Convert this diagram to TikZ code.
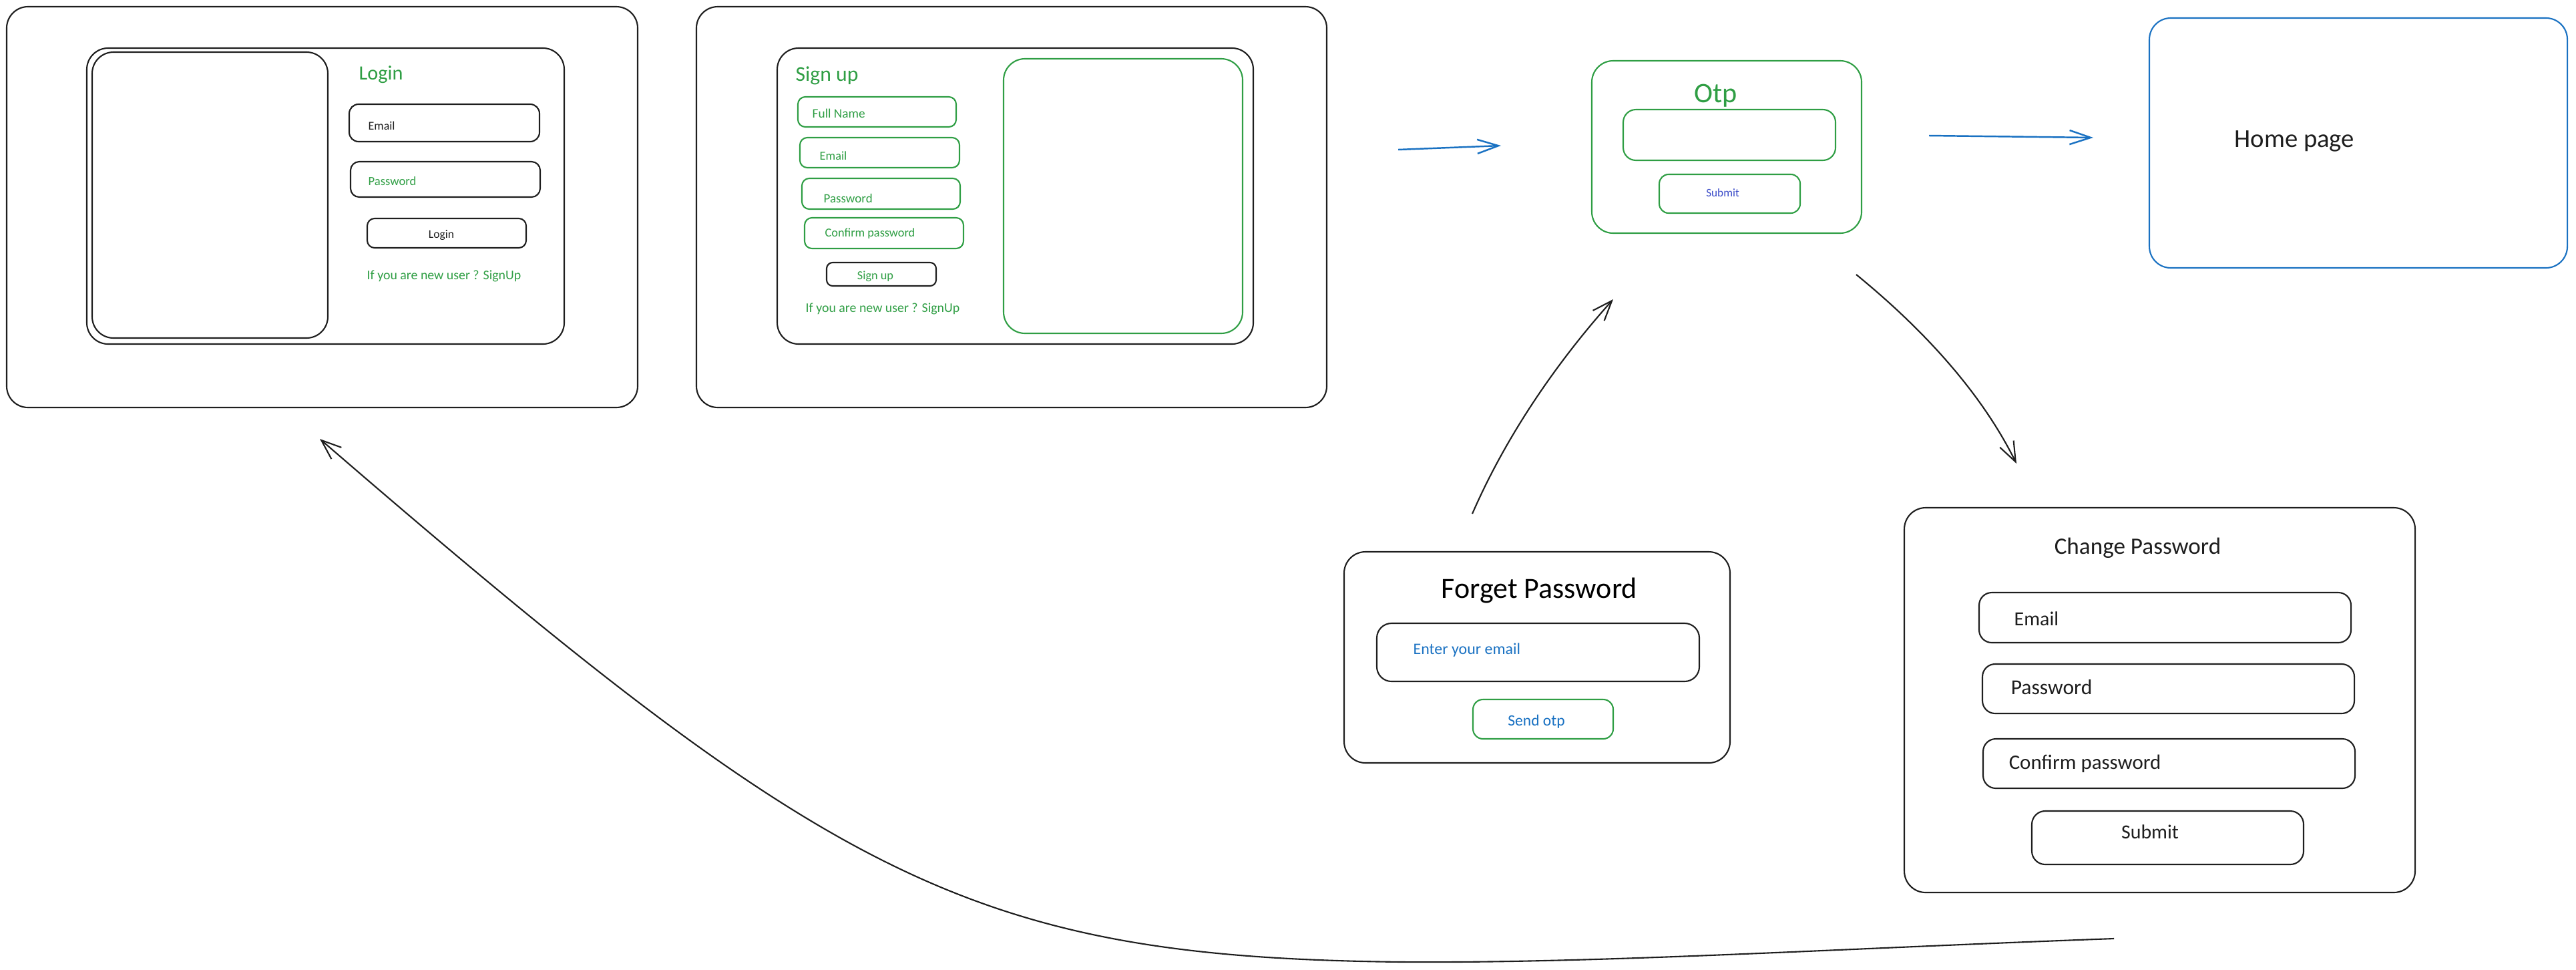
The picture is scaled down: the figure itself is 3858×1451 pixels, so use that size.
\documentclass[tikz,border=0pt]{standalone}
\usepackage{fontspec}
\setmainfont{Carlito}
\usetikzlibrary{fit,arrows.meta}
\definecolor{ink}{HTML}{1E1E1E}
\definecolor{exgreen}{HTML}{2F9E44}
\definecolor{exblue}{HTML}{1971C2}
\definecolor{exindigo}{HTML}{3B4CC8}
\tikzset{
  sk/.style={draw=#1, line width=0.6pt, inner sep=0pt},
  txt/.style={inner sep=0pt, font=\fontsize{#1}{#1}\selectfont},
  barrow/.style={draw=exblue, line width=0.7pt, -{Straight Barb[length=9pt,width=6pt]}},
  karrow/.style={draw=ink, line width=0.6pt, -{Straight Barb[length=8.5pt,width=6.5pt]}}
}
\begin{document}
\begin{tikzpicture}[x=0.01cm, y=-0.01cm]
\useasboundingbox (0,0) rectangle (3858,1451);
% ---------- Login screen ----------
\node[sk=ink, rounded corners=0.32cm, fit={(10,10)(955,610)}] (loginframe) {};
\node[sk=ink, rounded corners=0.32cm, fit={(130,72)(845,515)}] (logincard) {};
\node[sk=ink, rounded corners=0.32cm, fit={(138,78)(491,506)}] (loginimg) {};
\node[txt=8.6, text=exgreen, anchor=base west] (logintitle) at (537,119) {Login};
\node[sk=ink, rounded corners=0.14cm, fit={(523,156)(808,212)}] (loginemail) {};
\node[txt=5.1, text=ink, anchor=base west] (loginemailt) at (551,194) {Email};
\node[sk=ink, rounded corners=0.13cm, fit={(525,242)(809,295)}] (loginpw) {};
\node[txt=5.3, text=exgreen, anchor=base west] (loginpwt) at (551,277) {Password};
\node[sk=ink, rounded corners=0.11cm, fit={(550,327)(788,371)}] (loginbtn) {};
\node[txt=5, text=ink, anchor=base] (loginbtnt) at (661,356) {Login};
\node[txt=5.65, text=exgreen, anchor=base west] (loginnew) at (549,418) {If you are new user ? SignUp};
% ---------- Sign up screen ----------
\node[sk=ink, rounded corners=0.32cm, fit={(1043,10)(1987,610)}] (signframe) {};
\node[sk=ink, rounded corners=0.32cm, fit={(1164,72)(1877,515)}] (signcard) {};
\node[sk=exgreen, rounded corners=0.32cm, fit={(1503,88)(1861,499)}] (signimg) {};
\node[txt=9, text=exgreen, anchor=base west] (signtitle) at (1191,121) {Sign up};
\node[sk=exgreen, rounded corners=0.11cm, fit={(1195,145)(1432,190)}] (signname) {};
\node[txt=5.5, text=exgreen, anchor=base west] (signnamet) at (1216,176) {Full Name};
\node[sk=exgreen, rounded corners=0.11cm, fit={(1198,206)(1437,251)}] (signemail) {};
\node[txt=5.2, text=exgreen, anchor=base west] (signemailt) at (1227,239) {Email};
\node[sk=exgreen, rounded corners=0.11cm, fit={(1201,267)(1438,313)}] (signpw) {};
\node[txt=5.4, text=exgreen, anchor=base west] (signpwt) at (1233,303) {Password};
\node[sk=exgreen, rounded corners=0.11cm, fit={(1205,326)(1443,372)}] (signcpw) {};
\node[txt=5.2, text=exgreen, anchor=base west] (signcpwt) at (1235,354) {Confirm password};
\node[sk=ink, rounded corners=0.09cm, fit={(1238,393)(1402,428)}] (signbtn) {};
\node[txt=5.2, text=exgreen, anchor=base] (signbtnt) at (1311,418) {Sign up};
\node[txt=5.65, text=exgreen, anchor=base west] (signnew) at (1206,467) {If you are new user ? SignUp};
% ---------- OTP screen ----------
\node[sk=exgreen, rounded corners=0.32cm, fit={(2384,91)(2788,349)}] (otpframe) {};
\node[txt=12, text=exgreen, anchor=base west] (otptitle) at (2537,153) {Otp};
\node[sk=exgreen, rounded corners=0.19cm, fit={(2431,164)(2749,240)}] (otpinput) {};
\node[sk=exgreen, rounded corners=0.14cm, fit={(2485,261)(2696,319)}] (otpbtn) {};
\node[txt=4.9, text=exindigo, anchor=base] (otpbtnt) at (2580,294) {Submit};
% ---------- Home page ----------
\node[sk=exblue, rounded corners=0.32cm, fit={(3219,27)(3845,401)}] (home) {};
\node[txt=11, text=ink, anchor=base west] (hometitle) at (3346,220) {Home page};
% ---------- Forget password ----------
\node[sk=ink, rounded corners=0.32cm, fit={(2013,826)(2591,1142)}] (forgot) {};
\node[txt=12.5, text=black, anchor=base west] (forgottitle) at (2158,895) {Forget Password};
\node[sk=ink, rounded corners=0.22cm, fit={(2062,933)(2545,1020)}] (forgotinput) {};
\node[txt=6.8, text=exblue, anchor=base west] (forgotinputt) at (2116,979) {Enter your email};
\node[sk=exgreen, rounded corners=0.15cm, fit={(2206,1047)(2416,1106)}] (forgotbtn) {};
\node[txt=6.7, text=exblue, anchor=base] (forgotbtnt) at (2301,1086) {Send otp};
% ---------- Change password ----------
\node[sk=ink, rounded corners=0.32cm, fit={(2852,760)(3617,1336)}] (change) {};
\node[txt=10, text=ink, anchor=base west] (changetitle) at (3076,829) {Change Password};
\node[sk=ink, rounded corners=0.19cm, fit={(2964,887)(3521,962)}] (chemail) {};
\node[txt=8.5, text=ink, anchor=base west] (chemailt) at (3016,936) {Email};
\node[sk=ink, rounded corners=0.19cm, fit={(2969,994)(3526,1068)}] (chpw) {};
\node[txt=9, text=ink, anchor=base west] (chpwt) at (3011,1039) {Password};
\node[sk=ink, rounded corners=0.19cm, fit={(2970,1106)(3527,1180)}] (chcpw) {};
\node[txt=8.8, text=ink, anchor=base west] (chcpwt) at (3008,1151) {Confirm password};
\node[sk=ink, rounded corners=0.2cm, fit={(3043,1214)(3450,1294)}] (chbtn) {};
\node[txt=8.5, text=ink, anchor=base] (chbtnt) at (3220,1255) {Submit};
% ---------- Connectors ----------
\coordinate (a1s) at (2094,224);
\coordinate (a1e) at (2248,218);
\coordinate (a2s) at (2889,203);
\coordinate (a2e) at (3135,206);
\coordinate (f1s) at (2205,769);
\coordinate (f1e) at (2416,448);
\coordinate (c1s) at (2780,411);
\coordinate (c1e) at (3020,694);
\coordinate (b1s) at (3166,1405);
\coordinate (bm) at (2100,1440);
\coordinate (b1e) at (479,657);
\draw[barrow] (a1s) -- (a1e);
\draw[barrow] (a2s) -- (a2e);
\draw[karrow] (f1s) .. controls (2256,652) and (2331,543) .. (f1e);
\draw[karrow] (c1s) .. controls (2872,486) and (2964,581) .. (c1e);
\draw[karrow] (b1s) .. controls (2750,1420) and (2400,1442) .. (bm) .. controls (1452,1433) and (1245,1318) .. (b1e);
\end{tikzpicture}
\end{document}
